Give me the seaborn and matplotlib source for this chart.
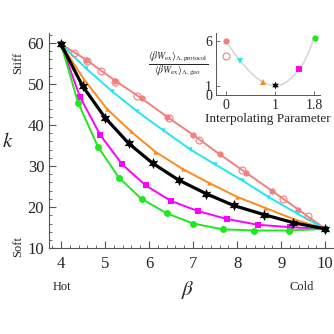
import numpy as np
import pandas as pd
import seaborn as sns
import matplotlib.pyplot as plt
from matplotlib.ticker import MultipleLocator, FixedLocator

# main panel: k(beta) for each protocol
beta_pink = [4.0, 4.57, 5.23, 5.83, 6.41, 7.0, 7.6, 8.2, 8.8, 9.39, 10.0]
k_pink = [59.7, 55.9, 50.8, 46.5, 42.0, 37.6, 32.9, 28.4, 23.9, 19.4, 14.7]
beta_open = [4.3, 4.6, 4.9, 5.23, 5.72, 6.45, 7.13, 8.1, 9.05, 9.62]
k_open = [57.6, 55.5, 53.2, 50.6, 47.0, 41.6, 36.4, 29.1, 21.9, 17.8]
beta_cyan = [4.0, 4.57, 5.15, 5.72, 6.31, 6.93, 7.5, 8.1, 8.71, 9.35, 10.0]
k_cyan = [59.7, 53.8, 48.3, 43.4, 38.8, 34.1, 30.4, 26.6, 22.5, 18.5, 14.7]
beta_orange = [4.0, 4.53, 5.04, 5.58, 6.14, 6.76, 7.36, 8.0, 8.64, 9.3, 10.0]
k_orange = [59.7, 51.0, 44.0, 38.5, 33.5, 29.3, 25.9, 22.5, 19.8, 17.0, 14.7]
beta_black = [4.0, 4.49, 5.0, 5.54, 6.08, 6.67, 7.29, 7.92, 8.6, 9.28, 10.0]
k_black = [59.7, 49.5, 41.8, 35.5, 30.7, 26.6, 23.3, 20.4, 18.2, 16.2, 14.7]
beta_magenta = [4.0, 4.43, 4.89, 5.39, 5.92, 6.5, 7.12, 7.77, 8.47, 9.21, 10.0]
k_magenta = [59.7, 46.9, 37.6, 30.4, 25.3, 21.5, 19.0, 17.1, 15.7, 15.1, 14.7]
beta_green = [4.0, 4.39, 4.84, 5.32, 5.83, 6.4, 7.0, 7.67, 8.39, 9.17, 10.0]
k_green = [59.7, 45.4, 34.7, 27.1, 22.0, 18.5, 16.0, 14.6, 14.3, 14.3, 14.7]

# inset: work ratio vs interpolating parameter
lam_curve = [0.0, 0.1, 0.2, 0.3, 0.4, 0.5, 0.6, 0.7, 0.8, 0.9, 1.0,
             1.1, 1.2, 1.3, 1.4, 1.5, 1.6, 1.7, 1.8]
ratio_curve = [6.0, 5.2, 4.4, 3.75, 3.1, 2.5, 2.0, 1.6, 1.3, 1.1, 1.0,
               1.05, 1.3, 1.7, 2.2, 2.85, 3.7, 4.9, 6.3]
lam_pts = [0.0, 0.29, 0.75, 1.0, 1.5, 1.82]
ratio_pts = [6.0, 3.8, 1.4, 1.05, 2.85, 6.3]
lam_open, ratio_open = [0.0], [4.35]

PINK = '#f47f7f'
CYAN = '#1fe8f2'
ORANGE = '#ff8a1c'
MAGENTA = '#ff00ff'
GREEN = '#1ee81e'
colors_pts = [PINK, CYAN, ORANGE, 'black', MAGENTA, GREEN]
markers_pts = ['o', 'v', '^', (6, 1, 0), 's', 'o']

sns.set_style('ticks')
plt.rcParams['font.family'] = ['Liberation Serif', 'DejaVu Serif']
plt.rcParams['mathtext.fontset'] = 'stix'
plt.rcParams['xtick.direction'] = 'in'
plt.rcParams['ytick.direction'] = 'in'

fig = plt.figure(figsize=(3.34, 3.34), dpi=100)
ax = fig.add_axes([0.147, 0.257, 0.853, 0.644])

series = [
    (beta_pink, k_pink, PINK, 'o', 4.5, 1.4),
    (beta_cyan, k_cyan, CYAN, 'v', 3.2, 1.4),
    (beta_orange, k_orange, ORANGE, '^', 3.2, 1.4),
    (beta_magenta, k_magenta, MAGENTA, 's', 4.0, 1.4),
    (beta_green, k_green, GREEN, 'o', 5.0, 1.4),
]
for bx, ky, col, mk, ms, lw in series:
    sns.lineplot(x=bx, y=ky, color=col, marker=mk, markersize=ms,
                 markeredgewidth=0, linewidth=lw, sort=False, ax=ax)
sns.lineplot(x=beta_open, y=k_open, color=PINK, marker='o', markersize=5,
             markerfacecolor='none', markeredgecolor=PINK, markeredgewidth=0.8,
             linestyle='', sort=False, ax=ax)
sns.lineplot(x=beta_black, y=k_black, color='black', marker=(6, 1, 0),
             markersize=8, markeredgewidth=0, linewidth=2.3, sort=False, ax=ax)

ax.set_xlim(3.73, 10.2)
ax.set_ylim(10, 62.4)
ax.xaxis.set_major_locator(MultipleLocator(1))
ax.xaxis.set_minor_locator(MultipleLocator(0.2))
ax.yaxis.set_major_locator(MultipleLocator(10))
ax.yaxis.set_minor_locator(MultipleLocator(2))
ax.tick_params(which='major', length=5, width=0.8, labelsize=12, color='#555555')
ax.tick_params(which='minor', length=2.5, width=0.6, color='#555555')
ax.tick_params(axis='x', pad=6)
for s in ['left', 'bottom']:
    ax.spines[s].set_color('#555555')
    ax.spines[s].set_linewidth(0.8)
sns.despine(ax=ax)
ax.set_xlabel('')
ax.set_ylabel('')

fig.text(0.024, 0.572, r'$k$', fontsize=15, ha='center', va='center')
fig.text(0.563, 0.132, r'$\beta$', fontsize=15, ha='center', va='center')
fig.text(0.186, 0.141, 'Hot', fontsize=9, ha='center', va='center')
fig.text(0.904, 0.141, 'Cold', fontsize=9, ha='center', va='center')
fig.text(0.054, 0.811, 'Stiff', fontsize=9, ha='center', va='center', rotation=90)
fig.text(0.054, 0.263, 'Soft', fontsize=9, ha='center', va='center', rotation=90)

# inset
ins = fig.add_axes([0.647, 0.716, 0.311, 0.186])
sns.lineplot(x=lam_curve, y=ratio_curve, color='#d8d8d8', linewidth=1.2,
             sort=False, ax=ins)
for lx, ry, col, mk in zip(lam_pts, ratio_pts, colors_pts, markers_pts):
    ms = 5.5 if mk == (6, 1, 0) else 4.5
    sns.lineplot(x=[lx], y=[ry], color=col, marker=mk, markersize=ms,
                 markeredgewidth=0, linestyle='', ax=ins)
sns.lineplot(x=lam_open, y=ratio_open, color=PINK, marker='o', markersize=5,
             markerfacecolor='none', markeredgecolor=PINK, markeredgewidth=0.8,
             linestyle='', ax=ins)
ins.set_xlim(-0.2, 1.92)
ins.set_ylim(0, 6.9)
ins.xaxis.set_major_locator(FixedLocator([0, 1, 1.8]))
ins.set_xticklabels(['0', '1', '1.8'])
ins.yaxis.set_major_locator(FixedLocator([0, 1, 6]))
ins.set_yticklabels(['0', '1', '6'])
ins.tick_params(which='major', length=3, width=0.6, labelsize=10, pad=3,
                color='#555555')
for s in ['left', 'bottom']:
    ins.spines[s].set_color('#555555')
    ins.spines[s].set_linewidth(0.7)
sns.despine(ax=ins)
ins.set_xlabel('Interpolating Parameter', fontsize=9.5, labelpad=1)
ins.set_ylabel('')
fig.text(0.532, 0.811,
         r'$\frac{\langle \beta W_{\rm ex}\rangle_{\Lambda,\rm protocol}}'
         r'{\langle \beta W_{\rm ex}\rangle_{\Lambda,\rm geo}}$',
         fontsize=10, ha='center', va='center')

fig.savefig('out.png', dpi=100)
